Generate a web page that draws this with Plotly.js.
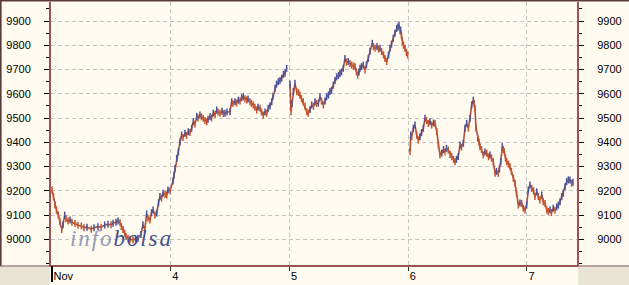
<!DOCTYPE html>
<html>
<head>
<meta charset="utf-8">
<script src="https://cdn.plot.ly/plotly-3.0.1.min.js"></script>
<style>html,body{margin:0;padding:0;background:#fffbf0;}#chart{width:629px;height:285px;}</style>
</head>
<body>
<div id="chart"></div>
<script>
// Trading days (November) and tick labels
const dayNumbers = [3, 4, 5, 6, 7];
const tickLabels = ['Nov', '4', '5', '6', '7'];
const yTicks = [9000, 9100, 9200, 9300, 9400, 9500, 9600, 9700, 9800, 9900];
// whether a day's line joins the previous day's line
const joinsPrevious = [false, true, false, false, true];

// intraday time (fraction of session) and index level, per day
const nov3_t = [0.000,0.013,0.025,0.038,0.053,0.067,0.082,0.093,0.107,0.118,0.135,0.152,0.168,0.194,0.219,0.247,0.269,0.295,0.331,0.354,0.387,0.413,0.444,0.472,0.497,0.514,0.539,0.556,0.573,0.584,0.598,0.612,0.623,0.640,0.657,0.682,0.703,0.724,0.749,0.766,0.781,0.797,0.808,0.825,0.838,0.851,0.867,0.882,0.897,0.909,0.922,0.935,0.952,0.966,0.977,0.994];
const nov3_v = [9203,9175,9141,9120,9100,9073,9040,9060,9100,9085,9075,9080,9070,9065,9058,9055,9048,9050,9042,9048,9052,9050,9059,9062,9060,9066,9070,9075,9068,9052,9040,9025,9012,9004,9000,8997,9002,9004,9020,9060,9040,9105,9087,9080,9110,9121,9100,9108,9150,9176,9170,9190,9185,9183,9203,9200];

const nov4_t = [0.019,0.027,0.036,0.050,0.064,0.078,0.092,0.103,0.120,0.133,0.148,0.162,0.176,0.190,0.204,0.219,0.229,0.246,0.259,0.274,0.288,0.303,0.314,0.331,0.343,0.358,0.373,0.387,0.398,0.415,0.432,0.444,0.457,0.474,0.499,0.513,0.524,0.541,0.554,0.569,0.583,0.597,0.611,0.625,0.640,0.651,0.667,0.680,0.695,0.709,0.724,0.735,0.752,0.764,0.779,0.794,0.808,0.821,0.836,0.850,0.861,0.878,0.891,0.906,0.920,0.934,0.949,0.962,0.976];
const nov4_v = [9240,9265,9293,9334,9361,9402,9430,9420,9437,9428,9444,9440,9458,9485,9475,9506,9500,9513,9505,9499,9490,9485,9495,9506,9500,9520,9515,9533,9525,9520,9528,9518,9520,9525,9526,9567,9560,9567,9562,9574,9570,9584,9588,9580,9574,9578,9567,9560,9554,9545,9533,9545,9540,9525,9513,9525,9520,9540,9550,9567,9590,9623,9640,9650,9655,9664,9680,9685,9705];

const nov5_t = [0.004,0.013,0.021,0.032,0.046,0.061,0.076,0.088,0.101,0.116,0.131,0.145,0.158,0.173,0.187,0.202,0.215,0.227,0.243,0.257,0.269,0.285,0.299,0.313,0.328,0.341,0.354,0.369,0.383,0.397,0.413,0.425,0.438,0.453,0.467,0.480,0.495,0.509,0.524,0.539,0.552,0.564,0.574,0.585,0.594,0.606,0.621,0.636,0.648,0.664,0.678,0.697,0.707,0.720,0.737,0.749,0.762,0.776,0.792,0.804,0.819,0.834,0.846,0.859,0.874,0.888,0.903,0.914,0.922,0.931,0.936,0.943,0.950,0.960,0.973,0.985,0.995];
const nov5_v = [9640,9526,9560,9609,9643,9609,9605,9595,9580,9567,9550,9526,9520,9535,9554,9548,9567,9560,9561,9588,9570,9554,9570,9588,9595,9609,9615,9636,9655,9670,9675,9684,9690,9705,9746,9730,9733,9725,9718,9715,9712,9690,9677,9690,9705,9712,9718,9698,9720,9746,9775,9808,9795,9788,9795,9785,9788,9774,9760,9746,9733,9760,9788,9805,9829,9850,9870,9875,9884,9860,9863,9840,9815,9800,9788,9770,9760];

const nov6_t = [0.015,0.021,0.029,0.043,0.057,0.071,0.085,0.099,0.112,0.127,0.141,0.154,0.169,0.183,0.197,0.213,0.225,0.240,0.253,0.267,0.282,0.297,0.309,0.322,0.337,0.352,0.366,0.381,0.394,0.406,0.421,0.436,0.448,0.464,0.478,0.492,0.506,0.520,0.534,0.548,0.556,0.562,0.571,0.585,0.596,0.604,0.617,0.632,0.646,0.661,0.676,0.688,0.701,0.716,0.731,0.743,0.758,0.768,0.779,0.792,0.800,0.809,0.819,0.829,0.844,0.857,0.869,0.885,0.899,0.912,0.927,0.941,0.955,0.969,0.983,0.997];
const nov6_v = [9361,9430,9423,9458,9471,9430,9409,9423,9440,9458,9499,9490,9478,9485,9471,9480,9478,9444,9389,9348,9355,9370,9361,9375,9368,9350,9341,9330,9320,9330,9341,9389,9380,9396,9458,9478,9458,9499,9554,9574,9560,9540,9458,9416,9400,9382,9370,9348,9360,9355,9340,9348,9335,9320,9272,9280,9272,9290,9320,9382,9370,9361,9335,9320,9310,9299,9280,9251,9231,9190,9141,9150,9148,9128,9121,9141];

const nov7_t = [0.011,0.025,0.040,0.055,0.067,0.082,0.095,0.109,0.124,0.137,0.152,0.166,0.179,0.194,0.206,0.221,0.236,0.250,0.264,0.278,0.292,0.306,0.320,0.334,0.348,0.362,0.376,0.387];
const nov7_v = [9203,9224,9210,9200,9176,9196,9176,9162,9183,9155,9148,9121,9115,9121,9110,9128,9120,9134,9141,9155,9176,9190,9217,9238,9245,9245,9231,9235];

const dayTimes = [nov3_t, nov4_t, nov5_t, nov6_t, nov7_t];
const dayValues = [nov3_v, nov4_v, nov5_v, nov6_v, nov7_v];

// assemble one series, with gaps where days are not joined
const xs = [], ys = [], cols = [];
const UP = '#4a5299', DOWN = '#c4542e';
let prev = null, lastCol = DOWN;
dayNumbers.forEach((d, i) => {
  if (!joinsPrevious[i] && xs.length) { xs.push(null); ys.push(null); cols.push(lastCol); prev = null; }
  dayTimes[i].forEach((t, j) => {
    const v = dayValues[i][j];
    let c = lastCol;
    if (prev !== null) c = v > prev ? UP : (v < prev ? DOWN : lastCol);
    xs.push(d + t); ys.push(v); cols.push(c);
    prev = v; lastCol = c;
  });
});

const W = 629, H = 285, L = 51, R = 52, T = 2, B = 20;
const pw = W - L - R, ph = H - T - B;
const xp = px => (px - L) / pw;
const yp = py => (H - B - py) / ph;

const yRange = [8894, 9978.5];
const xRange = [2.9916, 7.4211];
const axisRed = '#9c5555';
const fontSpec = {family: 'Liberation Sans, Arial, sans-serif', size: 11, color: '#000'};

const traces = [
  {x: xs, y: ys, type: 'scatter', mode: 'lines', connectgaps: false,
   line: {color: '#b24f38', width: 1.6}, hoverinfo: 'skip', showlegend: false},
  {x: xs, y: ys, type: 'scatter', mode: 'markers', yaxis: 'y2',
   marker: {symbol: 'line-ns', size: 5, line: {width: 1.5, color: cols}},
   hoverinfo: 'skip', showlegend: false}
];

const yCommon = {
  range: yRange, tickvals: yTicks, ticktext: yTicks.map(String),
  ticks: 'outside', ticklen: 5, tickcolor: '#000', tickwidth: 1,
  minor: {dtick: 50, ticks: 'outside', ticklen: 3, tickcolor: '#000', showgrid: false},
  showline: true, linecolor: axisRed, linewidth: 2,
  zeroline: false, tickfont: fontSpec, ticklabelstandoff: 11, fixedrange: true
};

const hs = '\u200A';
const wmInfo = ['i','n','f','o'].join(hs);
const wmBolsa = ['b','o','l','s','a'].join(hs);

const layout = {
  width: W, height: H,
  margin: {l: L, r: R, t: T, b: B, pad: 0},
  paper_bgcolor: '#fffbf0', plot_bgcolor: '#fffbf0',
  showlegend: false,
  xaxis: {
    range: xRange, tickvals: dayNumbers, ticktext: tickLabels,
    ticks: 'outside', ticklen: 4, tickcolor: '#333', tickwidth: 1,
    showline: true, linecolor: axisRed, linewidth: 2,
    showgrid: true, gridcolor: '#c4c4c4', gridwidth: 1, griddash: '4px,3px',
    zeroline: false, tickfont: fontSpec, ticklabelposition: 'outside right',
    ticklabelstandoff: 0, fixedrange: true
  },
  yaxis: Object.assign({}, yCommon, {side: 'left', showgrid: true, gridcolor: '#c4c4c4', gridwidth: 1, griddash: '4px,3px'}),
  yaxis2: Object.assign({}, yCommon, {side: 'right', overlaying: 'y', showgrid: false}),
  shapes: [
    // beige corners under the side panels
    {type: 'rect', xref: 'paper', yref: 'paper', x0: xp(0), x1: xp(50), y0: yp(286), y1: yp(266.5), fillcolor: '#e8e5d4', line: {width: 0}},
    {type: 'rect', xref: 'paper', yref: 'paper', x0: xp(578), x1: xp(630), y0: yp(286), y1: yp(266.5), fillcolor: '#e8e5d4', line: {width: 0}},
    // frame
    {type: 'line', xref: 'paper', yref: 'paper', x0: xp(0), x1: xp(629), y0: yp(0.7), y1: yp(0.7), line: {color: '#5a3c3c', width: 1.5}},
    {type: 'line', xref: 'paper', yref: 'paper', x0: xp(0.8), x1: xp(0.8), y0: yp(0), y1: yp(266), line: {color: '#5a3c3c', width: 1.6}},
    {type: 'line', xref: 'paper', yref: 'paper', x0: xp(0), x1: xp(51), y0: yp(266), y1: yp(266), line: {color: '#7a5050', width: 1}},
    {type: 'line', xref: 'paper', yref: 'paper', x0: xp(577), x1: xp(629), y0: yp(266), y1: yp(266), line: {color: '#7a5050', width: 1}},
    // month separator tick under "Nov"
    {type: 'line', xref: 'x', yref: 'paper', x0: dayNumbers[0], x1: dayNumbers[0], y0: yp(266), y1: yp(282), line: {color: '#000', width: 2}}
  ],
  annotations: [
    {xref: 'paper', yref: 'paper', x: xp(68), y: yp(238.5), xanchor: 'left', yanchor: 'middle', showarrow: false,
     text: '<i><span style="color:#959cb9">' + wmInfo + '</span><span style="color:#435287">' + hs + wmBolsa + '</span></i>',
     font: {family: 'Liberation Serif, Times New Roman, serif', size: 23}}
  ]
};

Plotly.newPlot('chart', traces, layout, {displayModeBar: false, staticPlot: true});
</script>
</body>
</html>
